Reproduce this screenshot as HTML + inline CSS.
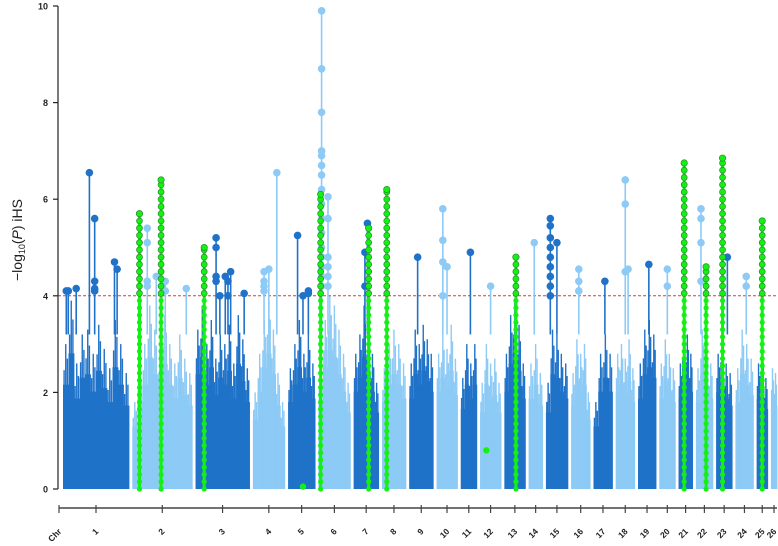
<!DOCTYPE html>
<html><head><meta charset="utf-8"><style>
html,body{margin:0;padding:0;background:#fff;}
svg{display:block;font-family:"Liberation Sans",Arial,sans-serif;}
</style></head><body>
<svg id="chart" width="778" height="546" viewBox="0 0 778 546"></svg>
<script>
const chrNames = ["1","2","3","4","5","6","7","8","9","10","11","12","13","14","15","16","17","18","19","20","21","22","23","24","25","26"];
const chrLengths = [66,60,54,32,27,32,25,24,24,21,16,21,21,14,22,19,19,19,18,16,14,17,16,18,11,6];
const bgProfiles = [
 [3.0,3.9,2.6,3.2,3.3,2.8,3.4,2.9,2.5,3.5,3.0,2.4],
 [1.8,2.5,3.0,3.8,3.3,2.9,3.6,3.0,2.6,3.2,2.7,2.4],
 [3.3,3.8,3.0,3.5,2.7,3.2,3.0,3.4,2.6,3.6,3.1,2.5],
 [2.0,2.8,3.5,3.9,3.3,2.4,1.8],
 [2.5,3.0,3.5,2.8,3.2,2.6],
 [2.5,3.5,4.0,3.8,3.3,2.8,2.2],
 [2.8,3.2,3.8,3.4,2.8,2.2],
 [2.5,3.0,3.3,3.0,2.6],
 [2.6,3.3,3.0,3.4,3.1,2.8],
 [2.8,3.2,2.9,3.4,2.7],
 [2.3,3.0,2.6,3.0],
 [2.2,3.0,2.6,2.7,2.2],
 [2.8,3.6,3.9,3.4,2.6],
 [2.6,3.0,2.4],
 [2.2,3.3,3.2,2.8,2.6],
 [2.4,3.1,2.8,3.0,2.0],
 [1.8,2.8,3.2,2.8],
 [2.8,3.0,2.7,3.1,2.5],
 [2.6,3.3,3.5,3.2],
 [2.6,3.1,2.8,2.5],
 [2.6,3.3,3.2,2.8],
 [2.5,3.3,3.0,2.6],
 [2.8,3.2,2.6,2.4],
 [2.5,3.3,3.0,2.7],
 [2.6,2.9,2.3],
 [2.5,2.4]
];
const peakChr = [0,0,0,0,0,0,0, 1,1,1,1, 2,2,2,2,2,2, 3,3,3, 4,4,4, 5,5, 6,6, 8, 9,9, 10, 11, 13, 14,14, 15, 16, 17,17, 18, 19, 21, 22, 23];
const peakPos = [.05,.08,.2,.4,.48,.78,.82, .25,.4,.55,.9, .38,.45,.55,.6,.65,.9, .35,.5,.75, .35,.55,.75, .1,.3, .45,.55, .35, .3,.5, .6, .5, .4, .2,.5, .4, .6, .5,.65, .6, .5, .3, .7, .6];
const peakVals = [[4.1],[4.1],[4.15],[6.55],[5.6,4.3,4.15,4.1],[4.7],[4.55],
 [5.4,5.1,4.3,4.2],[4.4],[4.3,4.1],[4.15],
 [5.2,5.0,4.4,4.3],[4.0],[4.4],[4.3,4.0],[4.5],[4.05],
 [4.5,4.3,4.2,4.1],[4.55],[6.55],
 [5.25],[4.0],[4.1,4.05],
 [9.9,8.7,7.8,7.0,6.9,6.7,6.5,6.2,5.9,5.6,5.3,5.0,4.8,4.6,4.4,4.2],[6.05,5.6,4.8,4.6,4.4,4.2],
 [4.9,4.2],[5.5],
 [4.8],
 [5.8,5.15,4.7,4.0],[4.6],
 [4.9],
 [4.2],
 [5.1],
 [5.6,5.45,5.2,5.0,4.8,4.6,4.4,4.2,4.0],[5.1],
 [4.55,4.3,4.1],
 [4.3],
 [6.4,5.9,4.5],[4.55],
 [4.65],
 [4.55,4.2],
 [5.8,5.6,5.1,4.3],
 [4.8],
 [4.4,4.2]];
const greenChr = [1,1,2,4,5,6,7,11,12,20,21,22,24];
const greenPos = [.12,.48,.16,.55,.07,.6,.2,.3,.55,.4,.6,.4,.5];
const greenBottom = [0,0,0,0.05,0,0,0,0.8,0,0,0,0,0];
const greenTop = [5.7,6.4,5.0,0.05,6.1,5.4,6.2,0.8,4.8,6.75,4.6,6.85,5.55];
const yTicks = [0,2,4,6,8,10];
const threshold = 4;

const NS="http://www.w3.org/2000/svg";
const svg=document.getElementById('chart');
const X0=63,X1=777,Y0=489,Y1=6;
const gap=3.28;
const starts=[];let acc=0;
chrLengths.forEach((l,i)=>{starts.push(acc);acc+=l+(i<chrLengths.length-1?gap:0);});
const total=acc;
const xs=v=>X0+(v/total)*(X1-X0);
const ys=v=>Y0-(v/10)*(Y0-Y1);
const xChr=(c,f)=>xs(starts[c]+chrLengths[c]*f);
const dark="#1f72c8",light="#8dcaf6",green="#14f014";
const colOf=c=>c%2===0?dark:light;
function el(tag,attrs,parent){const e=document.createElementNS(NS,tag);for(const k in attrs)e.setAttribute(k,attrs[k]);(parent||svg).appendChild(e);return e;}

const bgG=el('g',{});


bgProfiles.forEach((prof,c)=>{
  const g=el('g',{},bgG);
  
  
  const n=prof.length, xa=xChr(c,0), xb=xChr(c,1), w=(xb-xa)/n;
  prof.forEach((h,i)=>{
    const x=xa+i*w;
    el('rect',{x:x,y:ys(h*0.72),width:w+0.4,height:Y0-ys(h*0.72),fill:colOf(c)},g);
    for(let k=0;k<3;k++){
      const f=[0.82,1,0.9][k];
      const lx=x+w*(0.2+0.3*k);
      el('rect',{x:lx-0.7,y:ys(h*f),width:1.4,height:Y0-ys(h*f),fill:colOf(c)},g);
    }
  });
});

const th=el('line',{x1:58,x2:778,y1:ys(threshold),y2:ys(threshold),stroke:"#d0413a","stroke-width":1,"stroke-dasharray":"3,2"});



peakChr.forEach((c,i)=>{
  const g=el('g',{});
  
  
  const x=xChr(c,peakPos[i]);const vals=peakVals[i];const top=Math.max(...vals);
  el('line',{x1:x,x2:x,y1:ys(3.2),y2:ys(top),stroke:colOf(c),"stroke-width":1.6},g);
  vals.forEach(v=>el('circle',{cx:x,cy:ys(v),r:3.8,fill:colOf(c)},g));
});

greenChr.forEach((c,i)=>{
  const g=el('g',{});
  
  
  const x=xChr(c,greenPos[i]);const b=greenBottom[i],t=greenTop[i];
  if(t-b>0.1) el('line',{x1:x,x2:x,y1:ys(b),y2:ys(t),stroke:green,"stroke-width":3},g);
  for(let v=b;v<=t+1e-6;v+=0.15){
    const above=v>threshold;
    el('circle',{cx:x,cy:ys(v),r:above?3:2.6,fill:green,stroke:above?"#2a8a30":"none","stroke-width":0.7},g);
  }
  el('circle',{cx:x,cy:ys(t),r:3.2,fill:green,stroke:t>threshold?"#2a8a30":"none","stroke-width":0.7},g);
});

const ya=el('g',{});


el('line',{x1:58,x2:58,y1:ys(10),y2:Y0,stroke:"#222","stroke-width":1.2},ya);
yTicks.forEach(t=>{
  el('line',{x1:53,x2:58,y1:ys(t),y2:ys(t),stroke:"#222","stroke-width":1.2},ya);
  const tx=el('text',{x:48,y:ys(t)+3.5,"text-anchor":"end","font-size":"9","font-weight":"bold",fill:"#222"},ya);
  tx.textContent=t;
});
const yl=el('text',{x:0,y:0,transform:"translate(22,240) rotate(-90)","text-anchor":"middle","font-size":"14",fill:"#222"});


yl.innerHTML='−log<tspan font-size="9" dy="3">10</tspan><tspan dy="-3">(</tspan><tspan font-style="italic">P</tspan>) iHS';

const xa=el('g',{});


el('line',{x1:59,x2:777,y1:508,y2:508,stroke:"#444","stroke-width":1.5},xa);
const tickXs=[59].concat(chrNames.map((n,c)=>xChr(c,0.5)));
const tickLabels=["Chr"].concat(chrNames);
tickXs.forEach((x,i)=>{
  el('line',{x1:x,x2:x,y1:505,y2:513,stroke:"#444","stroke-width":1.2},xa);
  const tx=el('text',{x:0,y:0,transform:`translate(${x+3},${532}) rotate(-45)`,"text-anchor":"end","font-size":"8.5","font-weight":"bold",fill:"#222"},xa);
  
  
  tx.textContent=tickLabels[i];
});
</script>
</body></html>
